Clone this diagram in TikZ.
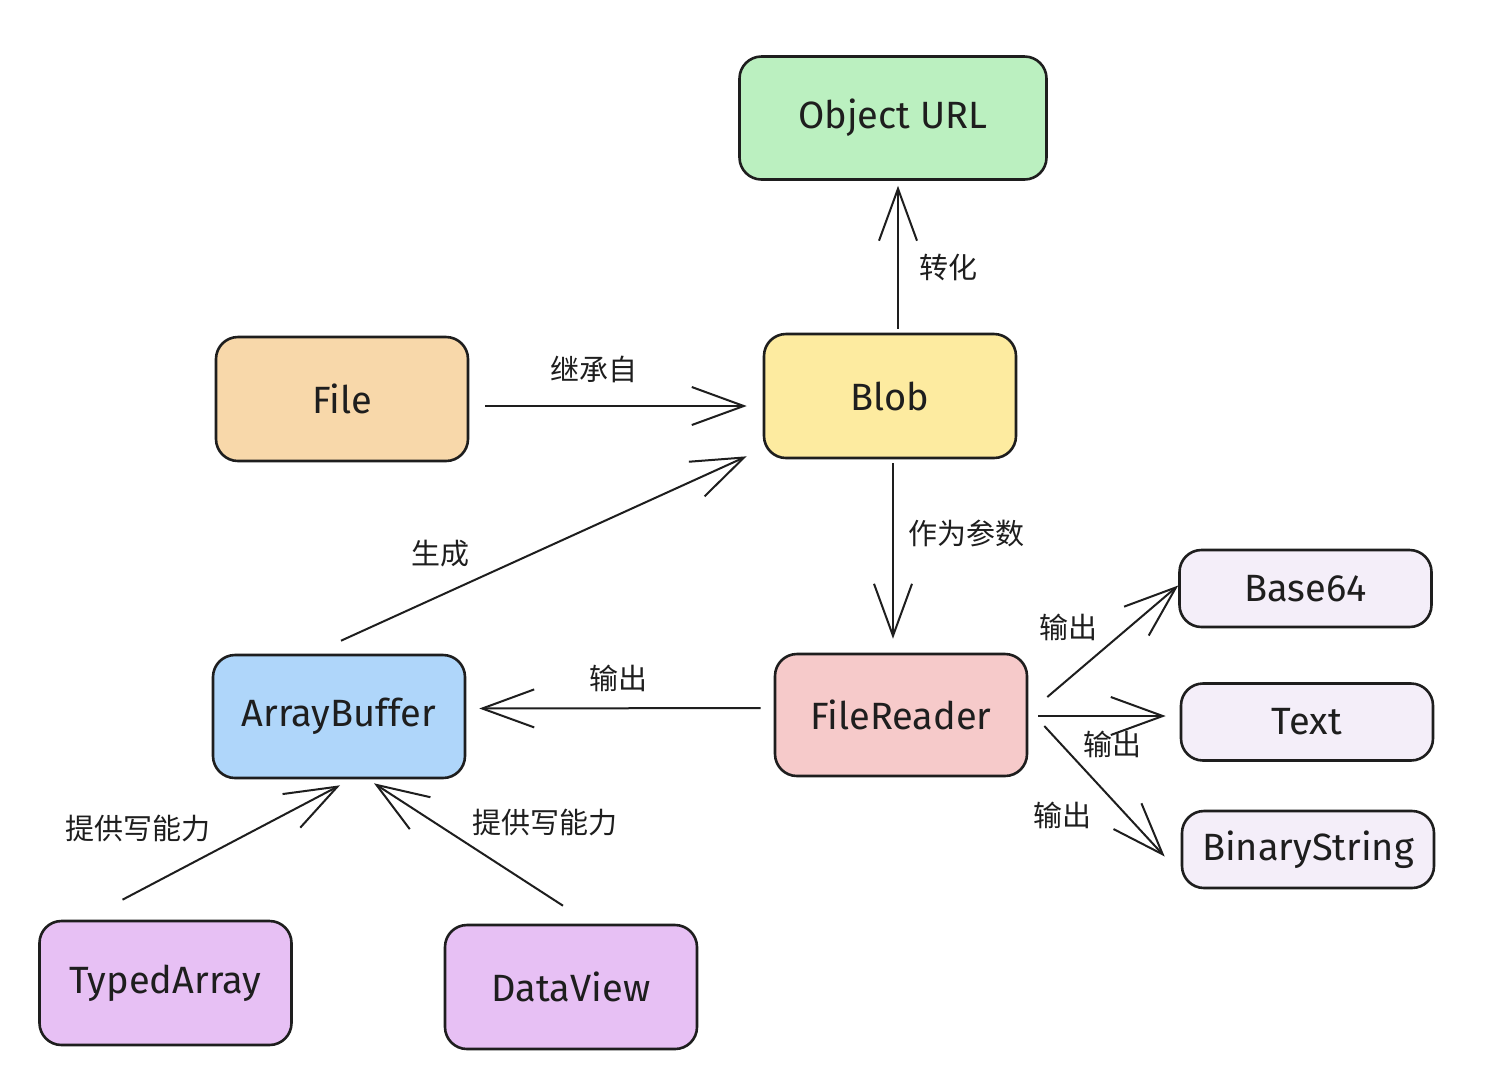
\documentclass[tikz,border=0pt]{standalone}
\usepackage{fontspec}
\setmainfont{Fira Sans}
\newfontfamily\cjk{Noto Sans CJK SC}
\usetikzlibrary{arrows.meta,calc}
\definecolor{cgreen}{HTML}{BBF0C0}
\definecolor{corange}{HTML}{F8D8AA}
\definecolor{cyellow}{HTML}{FDEBA0}
\definecolor{cpink}{HTML}{F6CACA}
\definecolor{cblue}{HTML}{AFD6FA}
\definecolor{clav}{HTML}{F4EEF9}
\definecolor{cpurple}{HTML}{E7C0F4}
\definecolor{ink}{HTML}{1E1E1E}
\tikzset{
  box/.style={draw=ink, line width=1.3pt, rounded corners=11pt, inner sep=0pt,
    minimum width=126pt, minimum height=62pt, font=\fontsize{19}{22}\selectfont, text=ink},
  sbox/.style={box, minimum height=38.5pt},
  arr/.style={draw=ink, line width=1pt, -{Straight Barb[length=26pt,width=19pt,line width=1pt]}},
  lbl/.style={font=\cjk\fontsize{14.5}{17}\selectfont, text=ink, inner sep=0pt}
}
\begin{document}
\begin{tikzpicture}[x=0.5pt,y=-0.5pt]
\useasboundingbox[fill=white] (0,0) rectangle (1500,1089);
% boxes
\node[box, fill=cgreen, minimum width=153.5pt, minimum height=61.5pt] (ourl) at (893,118) {Object URL};
\node[box, fill=corange] (file) at (342,399) {File};
\node[box, fill=cyellow] (blob) at (890,396) {Blob};
\node[box, fill=cpink, minimum height=61pt] (reader) at (901,715) {FileReader};
\node[box, fill=cblue, minimum height=61.5pt] (abuf) at (339,716.5) {ArrayBuffer};
\node[sbox, fill=clav] (b64) at (1305.5,588.5) {Base64};
\node[sbox, fill=clav] (text) at (1307,722) {Text};
\node[sbox, fill=clav] (bin) at (1308,849.5) {BinaryString};
\node[box, fill=cpurple] (typed) at (165.5,983) {TypedArray};
\node[box, fill=cpurple] (dview) at (571,987) {DataView};
% connectors
\draw[arr] ($(blob.north)+(8,-4)$) -- ($(ourl.south)+(5,5)$);
\draw[arr] ($(file.east)+(16,7)$) -- ($(blob.west)+(-16,10)$);
\draw[arr] ($(abuf.north)+(2,-13)$) -- ($(blob.south west)+(-16,-3)$);
\draw[arr] ($(blob.south)+(3,4)$) -- ($(reader.north)+(-8,-14)$);
\draw[arr] ($(reader.west)+(-13,-7)$) -- ($(abuf.east)+(13,-8)$);
\draw[arr] ($(reader.east)+(19,-18)$) -- ($(b64.west)+(0,-3)$);
\draw[arr] ($(reader.east)+(10,1)$) -- ($(text.west)+(-14,-6)$);
\draw[arr] ($(reader.east)+(16,11)$) -- ($(bin.west)+(-16,7)$);
\draw[arr] ($(typed.north)+(-43,-20)$) -- ($(abuf.south)+(1,6)$);
\draw[arr] ($(dview.north)+(-8,-18)$) -- ($(abuf.south)+(35,4)$);
% labels
\node[lbl] (l1) at (948,267) {转化};
\node[lbl] (l2) at (594,369) {继承自};
\node[lbl] (l3) at (440,554) {生成};
\node[lbl] (l4) at (966,533) {作为参数};
\node[lbl] (l5) at (618,678) {输出};
\node[lbl] (l6) at (1068,627) {输出};
\node[lbl] (l7) at (1112,744) {输出};
\node[lbl] (l8) at (1062,815) {输出};
\node[lbl] (l9) at (138,828) {提供写能力};
\node[lbl] (l10) at (545,822) {提供写能力};
\end{tikzpicture}
\end{document}
